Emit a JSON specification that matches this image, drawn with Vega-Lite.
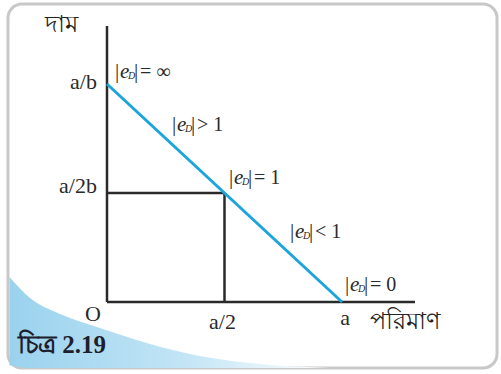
{
  "$schema": "https://vega.github.io/schema/vega-lite/v6.json",
  "width": 501,
  "height": 374,
  "padding": 0,
  "autosize": {"type": "fit", "contains": "padding"},
  "background": "white",
  "config": {"view": {"stroke": null}},
  "encoding": {
    "x": {"field": "x", "type": "quantitative", "axis": null, "scale": {"domain": [-0.4553, 1.6766], "nice": false, "zero": false}},
    "y": {"field": "y", "type": "quantitative", "axis": null, "scale": {"domain": [-0.3303, 1.3853], "nice": false, "zero": false}}
  },
  "layer": [
    {
      "data": {"values": [{"x": -0.4213, "y": 1.367, "x2": 1.6596, "y2": -0.3028}]},
      "mark": {"type": "rect", "fill": "white", "stroke": "#c8c8c8", "strokeWidth": 3, "cornerRadius": 14},
      "encoding": {"x2": {"field": "x2"}, "y2": {"field": "y2"}}
    },
    {
      "data": {"values": [
        {"x": -0.4149, "y": 0.1147, "b": -0.29},
        {"x": -0.3277, "y": 0.0183, "b": -0.3028},
        {"x": -0.2, "y": -0.055, "b": -0.3028},
        {"x": -0.0298, "y": -0.1193, "b": -0.3028},
        {"x": 0.183, "y": -0.1927, "b": -0.3028},
        {"x": 0.3957, "y": -0.2477, "b": -0.3028},
        {"x": 0.651, "y": -0.2844, "b": -0.3028},
        {"x": 0.949, "y": -0.3028, "b": -0.3028}
      ]},
      "mark": {"type": "area", "interpolate": "monotone", "color": {"gradient": "linear", "x1": 0, "y1": 0, "x2": 1, "y2": 0, "stops": [{"offset": 0, "color": "#9ad2ee"}, {"offset": 0.55, "color": "#c3e5f6"}, {"offset": 1, "color": "#ffffff"}]}},
      "encoding": {"y2": {"field": "b"}}
    },
    {
      "data": {"values": [
        {"x": 0, "y": 0, "x2": 0, "y2": 1.266},
        {"x": 0, "y": 0, "x2": 1.3106, "y2": 0},
        {"x": 0.5, "y": 0, "x2": 0.5, "y2": 0.5},
        {"x": 0, "y": 0.5, "x2": 0.5, "y2": 0.5}
      ]},
      "mark": {"type": "rule", "color": "#2a2a2a", "strokeWidth": 2.5},
      "encoding": {"x2": {"field": "x2"}, "y2": {"field": "y2"}}
    },
    {
      "data": {"values": [{"x": 0, "y": 1, "x2": 1, "y2": 0}]},
      "mark": {"type": "rule", "color": "#1ca5dd", "strokeWidth": 3},
      "encoding": {"x2": {"field": "x2"}, "y2": {"field": "y2"}}
    },
    {
      "data": {"values": [
        {"x": -0.0426, "y": 1.009, "t": "a/b"},
        {"x": -0.0426, "y": 0.532, "t": "a/2b"}
      ]},
      "mark": {"type": "text", "align": "right", "baseline": "middle", "font": "Liberation Serif", "fontSize": 22, "color": "#2a2a2a"},
      "encoding": {"text": {"field": "t"}}
    },
    {
      "data": {"values": [
        {"x": -0.0596, "y": -0.055, "t": "O"},
        {"x": 0.4915, "y": -0.0917, "t": "a/2"},
        {"x": 1.0128, "y": -0.0734, "t": "a"}
      ]},
      "mark": {"type": "text", "align": "center", "baseline": "middle", "font": "Liberation Serif", "fontSize": 22, "color": "#2a2a2a"},
      "encoding": {"text": {"field": "t"}}
    },
    {
      "data": {"values": [
        {"x": 1.119, "y": -0.0917, "t": "পরিমাণ"},
        {"x": -0.2638, "y": 1.2706, "t": "দাম"}
      ]},
      "mark": {"type": "text", "align": "left", "baseline": "middle", "fontSize": 24, "color": "#222"},
      "encoding": {"text": {"field": "t"}}
    },
    {
      "data": {"values": [{"x": -0.3787, "y": -0.197, "t": "চিত্র 2.19"}]},
      "mark": {"type": "text", "align": "left", "baseline": "middle", "font": "Liberation Serif", "fontWeight": "bold", "fontSize": 25, "color": "#1e1e2e"},
      "encoding": {"text": {"field": "t"}}
    },
    {
      "data": {"name": "elas", "values": [
        {"x": 0.034, "y": 1.055, "rel": "= ∞"},
        {"x": 0.2766, "y": 0.812, "rel": "> 1"},
        {"x": 0.519, "y": 0.569, "rel": "= 1"},
        {"x": 0.7787, "y": 0.321, "rel": "< 1"},
        {"x": 1.0128, "y": 0.078, "rel": "= 0"}
      ]},
      "layer": [
        {"mark": {"type": "text", "text": "|", "align": "left", "baseline": "middle", "font": "Liberation Serif", "fontSize": 21, "color": "#2a2a2a"}},
        {"mark": {"type": "text", "text": "e", "dx": 5, "align": "left", "baseline": "middle", "font": "Liberation Serif", "fontStyle": "italic", "fontSize": 21, "color": "#2a2a2a"}},
        {"mark": {"type": "text", "text": "D", "dx": 13, "dy": 4, "align": "left", "baseline": "middle", "font": "Liberation Serif", "fontStyle": "italic", "fontSize": 10, "color": "#2a2a2a"}},
        {"mark": {"type": "text", "text": "|", "dx": 19, "align": "left", "baseline": "middle", "font": "Liberation Serif", "fontSize": 21, "color": "#2a2a2a"}},
        {"mark": {"type": "text", "dx": 25, "align": "left", "baseline": "middle", "font": "Liberation Serif", "fontSize": 20, "color": "#2a2a2a"}, "encoding": {"text": {"field": "rel"}}}
      ]
    }
  ]
}
